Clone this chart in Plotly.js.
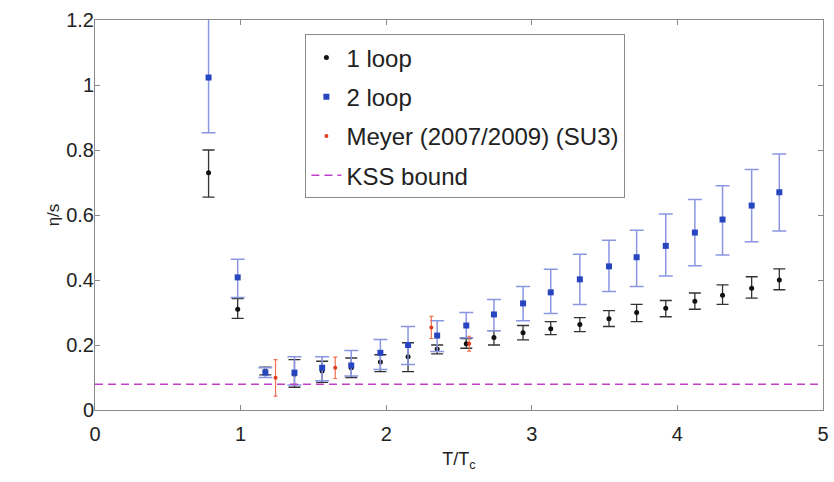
<!DOCTYPE html>
<html>
<head>
<meta charset="utf-8">
<script src="https://cdn.plot.ly/plotly-3.0.1.min.js"></script>
<style>html,body{margin:0;padding:0;background:#fff;}</style>
</head>
<body>
<div id="chart" style="width:834px;height:482px;"></div>
<script>
// Temperatures T/Tc
const T = [0.78, 0.98, 1.17, 1.37, 1.56, 1.76, 1.96, 2.15, 2.35, 2.55, 2.74, 2.94, 3.13, 3.33, 3.53, 3.72, 3.92, 4.12, 4.31, 4.51, 4.70];
// 1 loop
const oneLoop      = [0.73, 0.31, 0.12, 0.11, 0.12, 0.13, 0.148, 0.164, 0.188, 0.204, 0.223, 0.238, 0.25, 0.263, 0.281, 0.30, 0.313, 0.335, 0.353, 0.375, 0.40];
const oneLoopUp    = [0.07, 0.033, 0.012, 0.045, 0.03, 0.03, 0.022, 0.043, 0.012, 0.016, 0.021, 0.022, 0.022, 0.021, 0.025, 0.025, 0.024, 0.025, 0.032, 0.035, 0.034];
const oneLoopDown  = [0.075, 0.028, 0.012, 0.04, 0.035, 0.03, 0.03, 0.046, 0.015, 0.014, 0.023, 0.022, 0.018, 0.022, 0.024, 0.028, 0.026, 0.025, 0.028, 0.031, 0.03];
// 2 loop
const twoLoop      = [1.023, 0.408, 0.115, 0.115, 0.13, 0.137, 0.176, 0.2, 0.229, 0.26, 0.294, 0.328, 0.362, 0.402, 0.442, 0.47, 0.505, 0.546, 0.586, 0.629, 0.67];
const twoLoopUp    = [0.2, 0.056, 0.015, 0.049, 0.034, 0.046, 0.041, 0.057, 0.046, 0.04, 0.046, 0.052, 0.071, 0.077, 0.08, 0.083, 0.098, 0.102, 0.104, 0.111, 0.118];
const twoLoopDown  = [0.17, 0.062, 0.015, 0.038, 0.04, 0.032, 0.051, 0.06, 0.049, 0.038, 0.05, 0.053, 0.065, 0.077, 0.077, 0.09, 0.093, 0.102, 0.109, 0.111, 0.119];
// Meyer (2007/2009) SU(3) lattice
const meyerT       = [1.24, 1.65, 2.31, 2.57];
const meyer        = [0.099, 0.13, 0.254, 0.204];
const meyerErr     = [0.056, 0.033, 0.034, 0.023];
// KSS bound 1/(4 pi)
const kssT = [0, 5];
const kss  = [1/(4*Math.PI), 1/(4*Math.PI)];

const FONT = 'Liberation Sans, Arial, Helvetica, sans-serif';

const traces = [
  {
    x: T, y: oneLoop, name: '1 loop', type: 'scatter', mode: 'markers',
    marker: {color: '#111111', size: 5, symbol: 'circle'},
    error_y: {type: 'data', symmetric: false, array: oneLoopUp, arrayminus: oneLoopDown,
              color: '#333333', thickness: 1.3, width: 6},
    legendgroup: 'a'
  },
  {
    x: T, y: twoLoop, name: '2 loop', type: 'scatter', mode: 'markers',
    marker: {color: '#2845c0', size: 6, symbol: 'square'},
    error_y: {type: 'data', symmetric: false, array: twoLoopUp, arrayminus: twoLoopDown,
              color: '#8a96e2', thickness: 1.5, width: 7},
    legendgroup: 'b'
  },
  {
    x: meyerT, y: meyer, name: 'Meyer (2007/2009) (SU3)', type: 'scatter', mode: 'markers',
    marker: {color: '#e23a1e', size: 4, symbol: 'circle'},
    error_y: {type: 'data', array: meyerErr, color: '#f07050', thickness: 1.2, width: 2},
    legendgroup: 'c'
  },
  {
    x: kssT, y: kss, name: 'KSS bound', type: 'scatter', mode: 'lines',
    line: {color: '#c040c8', width: 1.5, dash: '8px,5px'},
    legendgroup: 'd'
  }
];

const axisCommon = {
  showline: true, mirror: 'ticks', linecolor: '#8a8a8a', linewidth: 1,
  ticks: 'inside', ticklen: 5, tickcolor: '#8a8a8a',
  showgrid: false, zeroline: false,
  tickfont: {family: FONT, size: 20, color: '#222'}
};

const layout = {
  width: 834, height: 482,
  margin: {l: 95, r: 11, t: 20, b: 72},
  paper_bgcolor: '#ffffff', plot_bgcolor: '#ffffff',
  showlegend: true,
  legend: {
    x: 0.289, y: 0.963, xanchor: 'left', yanchor: 'top',
    bgcolor: '#ffffff', bordercolor: '#8a8a8a', borderwidth: 1,
    font: {family: FONT, size: 24, color: '#222'},
    traceorder: 'grouped', tracegroupgap: 5, itemwidth: 30
  },
  xaxis: Object.assign({}, axisCommon, {
    range: [0, 5], tickvals: [0, 1, 2, 3, 4, 5],
    ticklabelstandoff: 6,
    title: {text: 'T/T<sub>c</sub>', font: {family: FONT, size: 18, color: '#222'}, standoff: 8}
  }),
  yaxis: Object.assign({}, axisCommon, {
    range: [0, 1.2], tickvals: [0, 0.2, 0.4, 0.6, 0.8, 1, 1.2],
    ticktext: ['0', '0.2', '0.4', '0.6', '0.8', '1', '1.2'],
    ticklabelstandoff: -4,
    title: {text: 'η/s', font: {family: FONT, size: 17, color: '#222'}, standoff: 2}
  })
};

Plotly.newPlot('chart', traces, layout, {displayModeBar: false, staticPlot: true});
</script>
</body>
</html>
